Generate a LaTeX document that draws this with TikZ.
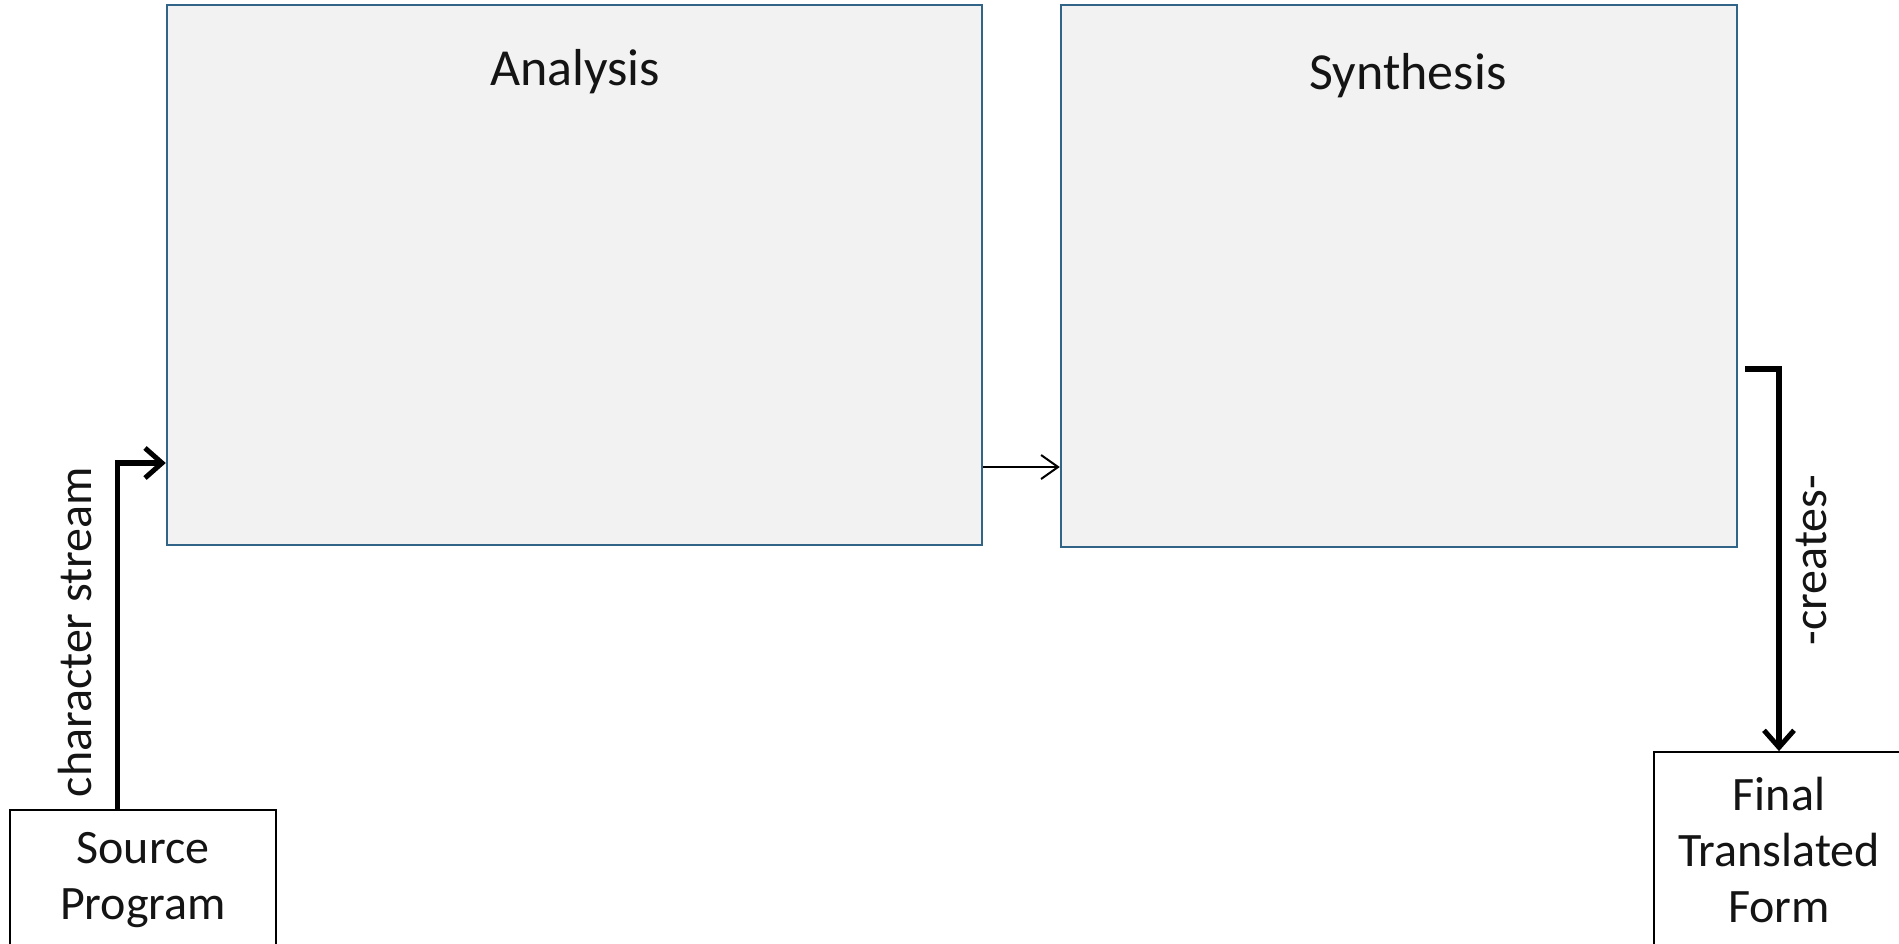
\documentclass[tikz,border=0pt]{standalone}
\usepackage{fontspec}
\setmainfont{Carlito}
\usetikzlibrary{arrows.meta}
\definecolor{boxfill}{RGB}{242,242,242}
\definecolor{boxedge}{RGB}{49,100,135}
\definecolor{inktext}{RGB}{20,20,20}
\tikzset{
  phase/.style={draw=boxedge, line width=2.4pt, fill=boxfill, rectangle, inner sep=0pt},
  endpoint/.style={draw=black, line width=1.8pt, fill=white, rectangle, inner sep=0pt,
    align=center, text=inktext, font=\fontsize{48}{56}\selectfont},
  title/.style={text=inktext, font=\fontsize{52}{60}\selectfont},
  flowlabel/.style={text=inktext, font=\fontsize{48}{56}\selectfont, rotate=90},
  thickarrow/.style={line width=5.5pt, -{Straight Barb[length=17pt, width=30pt, line width=5pt]}},
  thinarrow/.style={line width=2pt, -{Straight Barb[length=17pt, width=24pt, line width=2pt]}}
}
\begin{document}
\begin{tikzpicture}[x=1pt, y=-1pt]
  \useasboundingbox (0,0) rectangle (1899,943);
  \clip (0,0) rectangle (1899,943);

  % the two phases
  \node[phase, minimum width=815, minimum height=540] (analysis) at (574.5,275) {};
  \node[phase, minimum width=676, minimum height=542] (synthesis) at (1399,276) {};
  \node[title] (analysisTitle) at (575,72) {Analysis};
  \node[title] (synthesisTitle) at (1408,76) {Synthesis};

  % input and output
  \node[endpoint, minimum width=266, minimum height=140] (source) at (143,880) {Source\\Program};
  \node[endpoint, minimum width=250, minimum height=196] (final) at (1779,850) {Final\\Translated\\Form};

  % connectors
  \draw[thickarrow] ([xshift=-25.5pt]source.north) |- (analysis.west |- 0,463);
  \draw[thinarrow] (analysis.east |- 0,467) -- (synthesis.west |- 0,467);
  \draw[thickarrow] ([xshift=7pt]synthesis.east |- 0,369) -| (final.north);

  % connector labels
  \node[flowlabel] (streamLabel) at (75,632) {character stream};
  \node[flowlabel] (createsLabel) at (1811,560) {-creates-};
\end{tikzpicture}
\end{document}
